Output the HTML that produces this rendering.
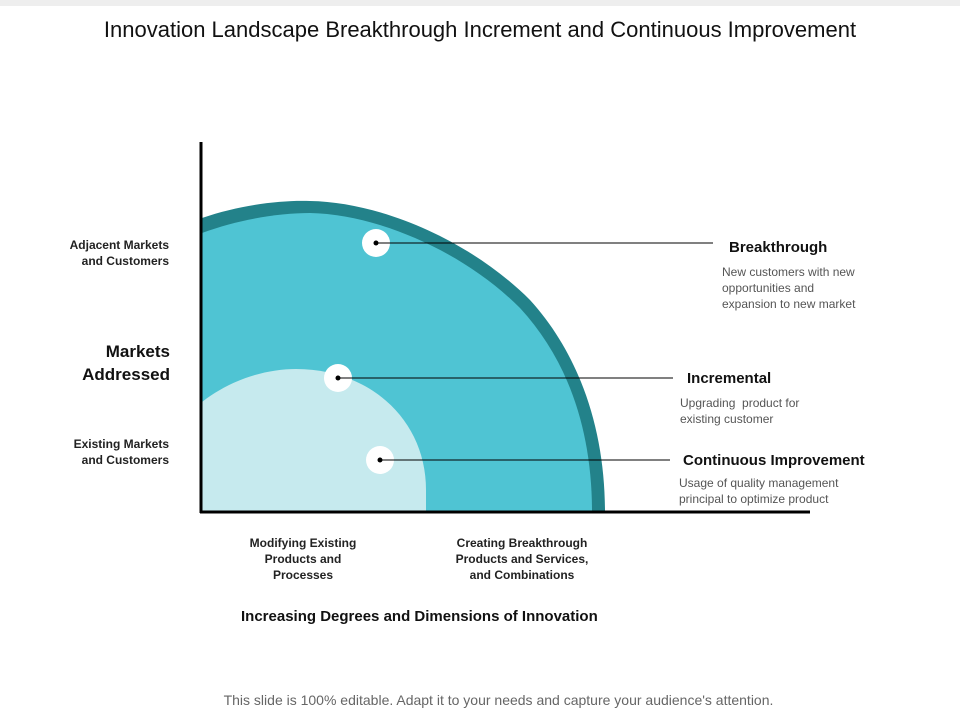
<!DOCTYPE html>
<html><head><meta charset="utf-8"><style>
body{margin:0;width:960px;height:720px;background:#fff;font-family:"Liberation Sans",sans-serif;position:relative;overflow:hidden}
.t{position:absolute;white-space:nowrap}
</style></head><body>
<div style="position:absolute;left:0;top:0;width:960px;height:6px;background:#eee"></div>
<div class="t" style="left:0;width:960px;text-align:center;top:17px;font-size:22px;color:#111">Innovation Landscape Breakthrough Increment and Continuous Improvement</div>
<svg width="960" height="720" style="position:absolute;left:0;top:0">
<path d="M202,218 C240,205 280,200 310,201 C380,202 470,240 530,300 C580,355 605,430 605,512 L202,512 Z" fill="#23828a"/>
<path d="M202,233 C240,219 280,213 310,213 C375,214 462,250 520,308 C568,360 592,430 592,512 L202,512 Z" fill="#4fc4d3"/>
<path d="M202,402 C230,380 265,369 296,369 C370,369 426,420 426,490 L426,512 L202,512 Z" fill="#c6eaee"/>
<line x1="201" y1="142" x2="201" y2="513" stroke="#000" stroke-width="3"/>
<line x1="200" y1="512" x2="810" y2="512" stroke="#000" stroke-width="3"/>
<g><circle cx="376" cy="243" r="14" fill="#fff"/><circle cx="376" cy="243" r="2.5" fill="#000"/><line x1="376" y1="243" x2="713" y2="243" stroke="#000" stroke-width="1"/></g>
<g><circle cx="338" cy="378" r="14" fill="#fff"/><circle cx="338" cy="378" r="2.5" fill="#000"/><line x1="338" y1="378" x2="673" y2="378" stroke="#000" stroke-width="1"/></g>
<g><circle cx="380" cy="460" r="14" fill="#fff"/><circle cx="380" cy="460" r="2.5" fill="#000"/><line x1="380" y1="460" x2="670" y2="460" stroke="#000" stroke-width="1"/></g>
</svg>
<div class="t" style="right:791px;top:237px;font-size:12px;font-weight:bold;text-align:right;line-height:16px;color:#222">Adjacent Markets<br>and Customers</div>
<div class="t" style="right:790px;top:340px;font-size:17px;font-weight:bold;text-align:right;line-height:23px;color:#111">Markets<br>Addressed</div>
<div class="t" style="right:791px;top:436px;font-size:12px;font-weight:bold;text-align:right;line-height:16px;color:#222">Existing Markets<br>and Customers</div>
<div class="t" style="left:233px;width:140px;text-align:center;top:535px;font-size:12px;font-weight:bold;line-height:16px;color:#222">Modifying Existing<br>Products and<br>Processes</div>
<div class="t" style="left:432px;width:180px;text-align:center;top:535px;font-size:12px;font-weight:bold;line-height:16px;color:#222">Creating Breakthrough<br>Products and Services,<br>and Combinations</div>
<div class="t" style="left:241px;top:608px;font-size:15px;font-weight:bold;color:#111">Increasing Degrees and Dimensions of Innovation</div>
<div class="t" style="left:729px;top:239px;font-size:15px;font-weight:bold;color:#111">Breakthrough</div>
<div class="t" style="left:722px;top:264px;font-size:12px;line-height:16px;color:#555">New customers with new<br>opportunities and<br>expansion to new market</div>
<div class="t" style="left:687px;top:370px;font-size:15px;font-weight:bold;color:#111">Incremental</div>
<div class="t" style="left:680px;top:395px;font-size:12px;line-height:16px;color:#555">Upgrading&nbsp; product for<br>existing customer</div>
<div class="t" style="left:683px;top:452px;font-size:15px;font-weight:bold;color:#111">Continuous Improvement</div>
<div class="t" style="left:679px;top:475px;font-size:12px;line-height:16px;color:#555">Usage of quality management<br>principal to optimize product</div>
<div class="t" style="left:0;width:997px;text-align:center;top:692px;font-size:14px;color:#666">This slide is 100% editable. Adapt it to your needs and capture your audience's attention.</div>
</body></html>
